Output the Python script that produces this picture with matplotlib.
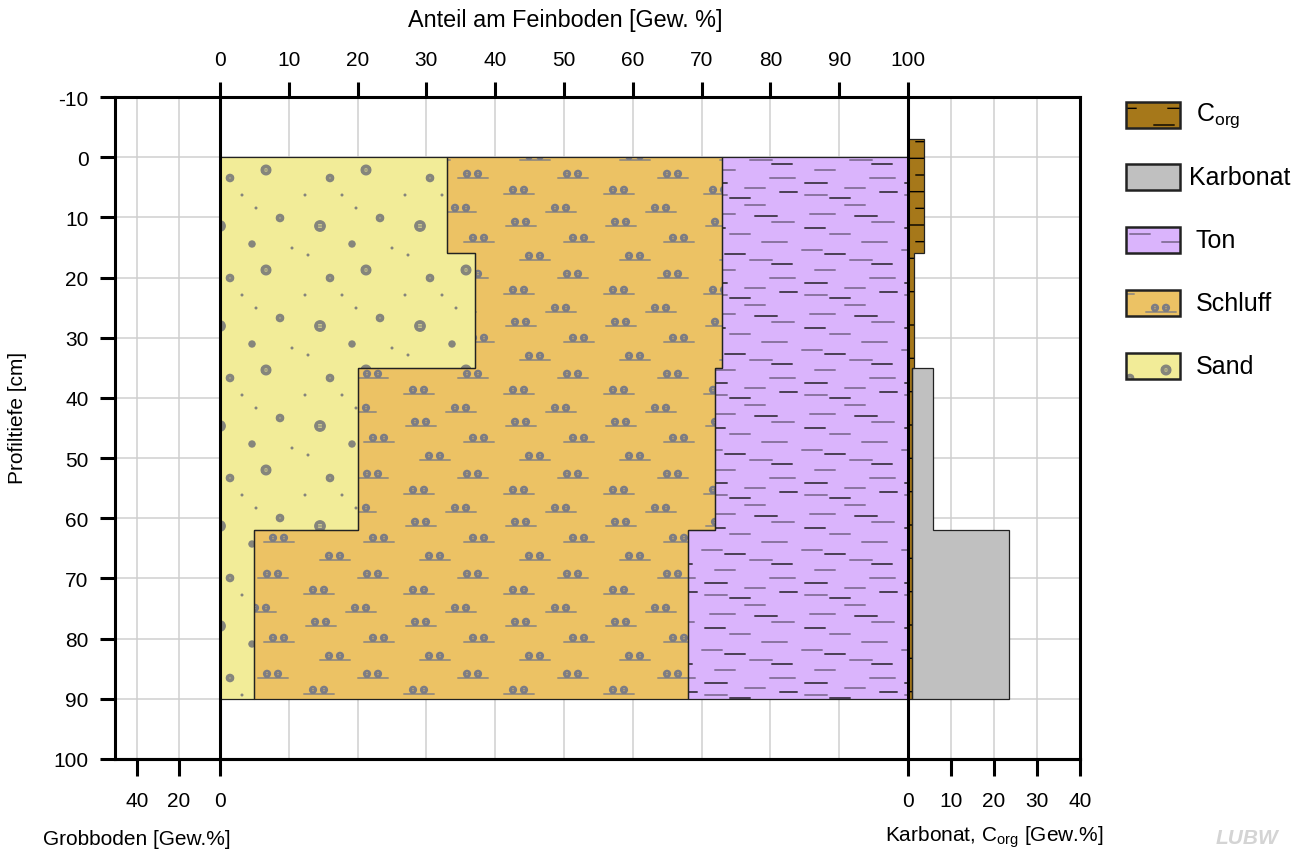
import warnings
import numpy as np
import matplotlib
matplotlib.use("Agg")
import matplotlib.pyplot as plt
import matplotlib.hatch as mhatch
from matplotlib.path import Path
from matplotlib.patches import Polygon, Rectangle

warnings.filterwarnings("ignore")

# ---------------- data ----------------
depth_bounds = [0, 16, 35, 62, 90]          # layer boundaries [cm]
sand = [33, 37, 20, 5]                      # Gew.% of fine soil
schluff = [40, 36, 52, 63]
ton = [27, 27, 28, 32]
grobboden = [0, 0, 0, 0]

corg_bounds = [-3, 16, 35, 62, 90]
corg = [3.8, 1.4, 1.0, 1.0]                 # Gew.%
karbonat = [0.0, 0.0, 4.9, 22.6]            # Gew.% (stacked after Corg)

fein_ticks = list(range(0, 101, 10))
grob_ticks = [40, 20, 0]
karb_ticks = [0, 10, 20, 30, 40]
depth_ticks = list(range(-10, 101, 10))

legend_labels = ["C$_{\\mathrm{org}}$", "Karbonat", "Ton", "Schluff", "Sand"]

# ---------------- styling ----------------
plt.rcParams["font.family"] = ["Liberation Sans", "DejaVu Sans"]
plt.rcParams["mathtext.fontset"] = "custom"
plt.rcParams["mathtext.rm"] = "Liberation Sans"
plt.rcParams["mathtext.it"] = "Liberation Sans:italic"
plt.rcParams["hatch.linewidth"] = 1.0

C_SAND, H_SAND = "#f2ec98", "#85857c"
C_SCHL, H_SCHL = "#ecc264", "#7c7c84"
C_TON, H_TON, H_TON2 = "#dab4fc", "#6a5a7c", "#111111"
C_CORG, H_CORG = "#a6781a", "#000000"
C_KARB = "#c0c0c0"
C_GRID = "#cfcfcf"

# ---------- custom texture hatches (tile = 1 inch) ----------
def circ(x, y, r):
    return Path.circle((x, y), r)


def ring(x, y, r, stripes=(0.0,)):
    outer = Path.circle((x, y), r)
    inner = Path.circle((x, y), r * 0.62)
    v = inner.vertices
    rev = Path(np.concatenate([v[24::-1], v[:1]]), inner.codes)
    parts = [outer, rev]
    for f in stripes:
        dy = f * r
        hw = np.sqrt(max(r * r - dy * dy, 0)) * 0.8
        parts.append(seg(x - hw, x + hw, y + dy))
    return Path.make_compound_path(*parts)


def seg(x0, x1, y):
    return Path([(x0, y), (x1, y)], [Path.MOVETO, Path.LINETO])


sand_parts = []
for (x, y, r) in [(0.20, 0.74, 0.052), (0.66, 0.30, 0.048), (0.80, 0.82, 0.036),
                  (0.30, 0.22, 0.036), (0.52, 0.56, 0.030)]:
    sand_parts.append(ring(x, y, r, stripes=(-0.45, 0.0, 0.45)))
for (x, y) in [(0.08, 0.45), (0.56, 0.92), (0.92, 0.52), (0.42, 0.05), (0.05, 0.05)]:
    sand_parts.append(circ(x, y, 0.008))
SAND_PATH = Path.make_compound_path(*sand_parts)

schl_parts = []
for (x0, y0) in [(0.04, 0.06), (0.58, 0.22), (0.20, 0.40), (0.64, 0.58),
                 (0.06, 0.74), (0.46, 0.88)]:
    schl_parts.append(seg(x0, x0 + 0.30, y0))
    schl_parts.append(ring(x0 + 0.09, y0 + 0.042, 0.034, stripes=(0.0,)))
    schl_parts.append(ring(x0 + 0.20, y0 + 0.042, 0.034, stripes=(0.0,)))
SCHL_PATH = Path.make_compound_path(*schl_parts)

ton_gray = [(0.05, 0.05, 0.22), (0.45, 0.12, 0.20), (0.70, 0.22, 0.25),
            (0.15, 0.30, 0.20), (0.50, 0.40, 0.22), (0.02, 0.50, 0.20),
            (0.62, 0.58, 0.25), (0.30, 0.66, 0.20), (0.72, 0.78, 0.22),
            (0.10, 0.86, 0.25), (0.45, 0.95, 0.20)]
ton_black = [(0.30, 0.02, 0.20), (0.05, 0.17, 0.22), (0.72, 0.36, 0.20),
             (0.25, 0.46, 0.20), (0.05, 0.72, 0.20), (0.55, 0.84, 0.22),
             (0.80, 0.08, 0.17)]
TON_PATH = Path.make_compound_path(*[seg(x, x + l, y) for x, y, l in ton_gray])
TON2_PATH = Path.make_compound_path(*[seg(x, x + l, y) for x, y, l in ton_black])

corg_parts = []
for i in range(6):
    y = (i + 0.5) / 6
    if i % 2 == 0:
        corg_parts += [seg(0.04, 0.24, y), seg(0.54, 0.74, y)]
    else:
        corg_parts += [seg(0.16, 0.36, y), seg(0.68, 0.88, y)]
CORG_PATH = Path.make_compound_path(*corg_parts)


def make_hatch(char, path):
    class _H(mhatch.HatchPatternBase):
        def __init__(self, hatch, density):
            self.num_vertices = len(path.vertices) if (hatch and char in hatch) else 0

        def set_vertices_and_codes(self, vertices, codes):
            vertices[:] = path.vertices
            codes[:] = path.codes
    return _H


mhatch._hatch_types.extend([make_hatch("S", SAND_PATH), make_hatch("U", SCHL_PATH),
                            make_hatch("T", TON_PATH), make_hatch("V", TON2_PATH),
                            make_hatch("C", CORG_PATH)])
mhatch._validate_hatch_pattern = lambda h: None

# ---------------- figure ----------------
W, H = 1306, 853
fig = plt.figure(figsize=(W / 100, H / 100), dpi=100)
ax_l, ax_r, ax_t, ax_b = 115, 1080, 98, 760
ax = fig.add_axes([ax_l / W, 1 - ax_b / H, (ax_r - ax_l) / W, (ax_b - ax_t) / H])

PX_FEIN = (908 - 220) / 100.0
GROB_SCALE = 2.075 / PX_FEIN     # Grobboden units -> Feinboden units
KARB_SCALE = 4.3 / PX_FEIN       # Karbonat units -> Feinboden units


def grob_x(v):
    return -v * GROB_SCALE


def karb_x(v):
    return 100 + v * KARB_SCALE


ax.set_xlim((ax_l - 220) / PX_FEIN, (ax_r - 220) / PX_FEIN)
ax.set_ylim(100, -10)


def step_polygon(bounds, left, right):
    verts = []
    for i in range(len(left)):
        verts += [(right[i], bounds[i]), (right[i], bounds[i + 1])]
    for i in reversed(range(len(left))):
        verts += [(left[i], bounds[i + 1]), (left[i], bounds[i])]
    return verts


def add_region(verts, face, hatches=(), lw=0.9, z=2, target=None):
    target = target or ax
    target.add_patch(Polygon(verts, closed=True, facecolor=face, edgecolor="none",
                             linewidth=0, zorder=z))
    for h, hc in hatches:
        target.add_patch(Polygon(verts, closed=True, facecolor="none", edgecolor=hc,
                                 hatch=h, linewidth=0, zorder=z + 0.1))
    target.add_patch(Polygon(verts, closed=True, fill=False, edgecolor="#222222",
                             linewidth=lw, zorder=z + 0.5))


# grid
grid_x = [grob_x(v) for v in (20, 40)] + list(range(10, 100, 10)) + \
         [karb_x(v) for v in (10, 20, 30)]
for gx in grid_x:
    ax.axvline(gx, color=C_GRID, lw=1.1, zorder=0)
for gy in range(0, 100, 10):
    ax.axhline(gy, color=C_GRID, lw=1.1, zorder=0)

# fine soil fractions
cum0 = [0.0] * 4
cum1 = [a for a in sand]
cum2 = [a + b for a, b in zip(sand, schluff)]
cum3 = [a + b + c for a, b, c in zip(sand, schluff, ton)]
HATCH_SAND = [("S", H_SAND)]
HATCH_SCHL = [("U", H_SCHL)]
HATCH_TON = [("T", H_TON), ("V", H_TON2)]
HATCH_CORG = [("C", H_CORG)]
add_region(step_polygon(depth_bounds, cum0, cum1), C_SAND, HATCH_SAND)
add_region(step_polygon(depth_bounds, cum1, cum2), C_SCHL, HATCH_SCHL)
add_region(step_polygon(depth_bounds, cum2, cum3), C_TON, HATCH_TON)

# Corg + Karbonat
corg_l = [karb_x(0)] * len(corg)
corg_r = [karb_x(v) for v in corg]
add_region(step_polygon(corg_bounds, corg_l, corg_r), C_CORG, HATCH_CORG, z=3)
k_idx = [i for i, v in enumerate(karbonat) if v > 0]
k_bounds = [corg_bounds[k_idx[0]]] + [corg_bounds[i + 1] for i in k_idx]
k_l = [karb_x(corg[i]) for i in k_idx]
k_r = [karb_x(corg[i] + karbonat[i]) for i in k_idx]
add_region(step_polygon(k_bounds, k_l, k_r), C_KARB, (), z=3)

# black divider lines
for vx in (0, 100):
    ax.axvline(vx, color="black", lw=2.2, zorder=5)

# axes frame / ticks
for sp in ax.spines.values():
    sp.set_linewidth(2.2)
    sp.set_zorder(6)
TICK_FS = 15
ax.xaxis.tick_top()
ax.set_xticks(fein_ticks)
ax.set_xticklabels([str(t) for t in fein_ticks])
ax.tick_params(axis="x", which="both", top=True, bottom=False, length=11, width=2.2,
               pad=9, labelsize=TICK_FS, direction="out")
ax.set_yticks(depth_ticks)
ax.set_yticklabels([str(t) for t in depth_ticks])
ax.tick_params(axis="y", length=11, width=2.2, pad=8, labelsize=TICK_FS, direction="out")

sec = ax.secondary_xaxis("bottom")
sec_pos = [grob_x(v) for v in grob_ticks] + [karb_x(v) for v in karb_ticks]
sec_lab = [str(v) for v in grob_ticks] + [str(v) for v in karb_ticks]
sec.set_xticks(sec_pos, sec_lab)
sec.tick_params(length=12, width=2.2, pad=11, labelsize=TICK_FS, direction="out")
sec.spines["bottom"].set_linewidth(2.2)

# axis titles
LAB_FS = 15
fig.text(565 / W, 1 - 20 / H, "Anteil am Feinboden [Gew. %]", ha="center", va="center",
         fontsize=16.8)
fig.text(18 / W, 1 - 418 / H, "Profiltiefe [cm]", ha="center", va="center",
         rotation=90, fontsize=LAB_FS)
fig.text(137 / W, 1 - 840 / H, "Grobboden [Gew.%]", ha="center", va="center",
         fontsize=LAB_FS)
fig.text(994 / W, 1 - 837 / H, "Karbonat, C$_{\\mathrm{org}}$ [Gew.%]", ha="center",
         va="center", fontsize=LAB_FS)

# legend
leg_ax = fig.add_axes([0, 0, 1, 1], facecolor="none")
leg_ax.set_xlim(0, W)
leg_ax.set_ylim(H, 0)
leg_ax.axis("off")
leg_items = [(C_CORG, HATCH_CORG), (C_KARB, ()), (C_TON, HATCH_TON),
             (C_SCHL, HATCH_SCHL), (C_SAND, HATCH_SAND)]
leg_y = [116, 178, 241, 304, 367]
leg_tx = [1196, 1189, 1196, 1196, 1196]
for (face, hatches), lab, cy, tx in zip(leg_items, legend_labels, leg_y, leg_tx):
    box = [(1126, cy - 13), (1180, cy - 13), (1180, cy + 13), (1126, cy + 13)]
    add_region(box, face, hatches, lw=1.8, target=leg_ax)
    leg_ax.text(tx, cy, lab, ha="left", va="center", fontsize=18)

# watermark
fig.text(1247 / W, 1 - 839 / H, "LUBW", ha="center", va="center", fontsize=15,
         fontweight="bold", style="italic", color="#d4d4d4")

fig.savefig("out.png", dpi=100)
